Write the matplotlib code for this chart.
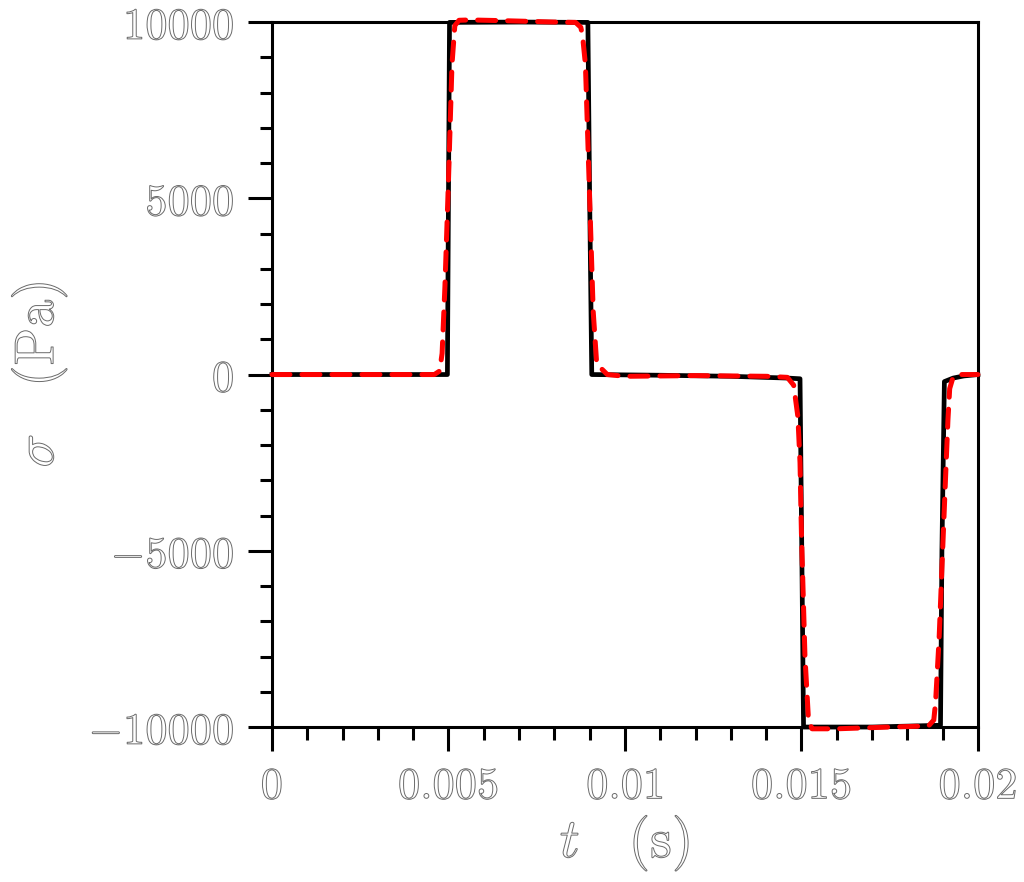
import matplotlib
matplotlib.use('Agg')
import matplotlib.pyplot as plt                 # Plotting library
import matplotlib.patheffects as pe             # For hollow (outlined) text
from matplotlib.ticker import MultipleLocator

# Solid black curve: time (s) and stress (Pa)
black_t = [0, 0.00497, 0.00503, 0.0070, 0.00895, 0.00900, 0.00906, 0.0110, 0.0130,
           0.0146, 0.01496, 0.01501, 0.01506, 0.0170, 0.01894, 0.01898, 0.01905,
           0.0193, 0.0196, 0.0200]
black_s = [0, 0, 9990, 10000, 9990, 5000, 0, -20, -50,
           -100, -120, -5000, -10000, -10000, -9950, -5000, -200,
           -100, -40, 0]

# Dashed red curve
red_t = [0, 0.0046, 0.00475, 0.00482, 0.0049, 0.0050, 0.0051, 0.00518, 0.0053, 0.0056,
         0.0065, 0.0080, 0.0086, 0.00875, 0.0088, 0.00888, 0.0090, 0.0091, 0.0092, 0.0095,
         0.0100, 0.0120, 0.0140, 0.0146, 0.01478, 0.0149, 0.01496, 0.0150, 0.0151, 0.0152,
         0.0153, 0.0160, 0.0175, 0.0186, 0.01875, 0.0188, 0.0189, 0.0190, 0.0191, 0.01915,
         0.0192, 0.0193, 0.0195, 0.0200]
red_s = [0, 0, 100, 600, 2500, 5500, 8800, 9900, 10050, 10060,
         10040, 10000, 9990, 9850, 9600, 8800, 5000, 1800, 300, 0,
         -50, -30, -50, -80, -300, -1200, -2500, -4500, -8000, -9800,
         -10050, -10050, -10000, -9970, -9800, -9300, -7500, -5000, -2500, -1300,
         -400, -60, 0, 0]

xticks = [0, 0.005, 0.01, 0.015, 0.02]
xlabels = ['$0$', '$0.005$', '$0.01$', '$0.015$', '$0.02$']
yticks = [-10000, -5000, 0, 5000, 10000]
ylabels = ['$-10000$', '$-5000$', '$0$', '$5000$', '$10000$']

plt.rcParams['mathtext.fontset'] = 'cm'

fig = plt.figure(figsize=(10.24, 8.82), dpi=100)
ax = fig.add_axes([0.2656, 0.1757, 0.955 - 0.2656, 0.975 - 0.1757])

ax.plot(black_t, black_s, color='black', lw=3.4, clip_on=False, zorder=3)
ax.plot(red_t, red_s, color='#ff0000', lw=3.6, dashes=(3.6, 2.4),
        dash_capstyle='round', clip_on=False, zorder=4)

ax.set_xlim(0, 0.02)
ax.set_ylim(-10000, 10000)

ax.set_xticks(xticks)
ax.set_xticklabels(xlabels)
ax.set_yticks(yticks)
ax.set_yticklabels(ylabels)
ax.xaxis.set_minor_locator(MultipleLocator(0.001))
ax.yaxis.set_minor_locator(MultipleLocator(1000))

ax.tick_params(which='major', direction='out', length=17, width=2.2, pad=10, labelsize=32)
ax.tick_params(which='minor', direction='out', length=9, width=2.2)
for s in ax.spines.values():
    s.set_linewidth(2.2)

hollow = [pe.Stroke(linewidth=0.7, foreground='#6a6a6a')]
for lab in ax.get_xticklabels() + ax.get_yticklabels():
    lab.set_color('white')
    lab.set_path_effects(hollow)

ax.set_xlabel(r'$t\ \ \ (\mathrm{s})$', fontsize=40, color='white', labelpad=4,
              path_effects=hollow)
ax.set_ylabel(r'$\sigma\ \ \ (\mathrm{Pa})$', fontsize=40, color='white', labelpad=14,
              path_effects=hollow)

fig.savefig('out.png', dpi=100)
